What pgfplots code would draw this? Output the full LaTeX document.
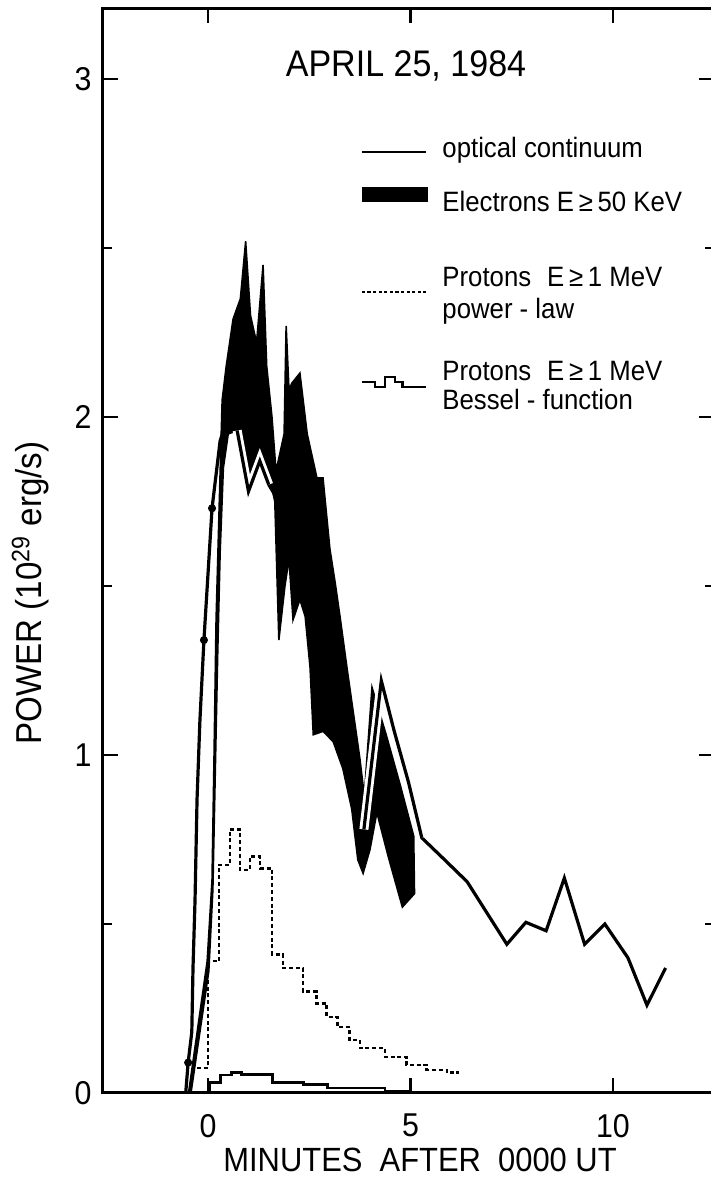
\documentclass[border=0pt]{standalone}
\usepackage{fontspec}
\setmainfont{Liberation Sans}[FakeStretch=0.92]
\usepackage{pgfplots}
\pgfplotsset{compat=1.18}
\usepackage{pgfplotstable}

% optical continuum
\pgfplotstableread{
x y
-0.55 0.0
-0.49 0.09
-0.4 0.18
-0.37 0.37
-0.32 0.57
-0.27 0.87
-0.2 1.1
-0.1 1.34
0.1 1.73
0.3 1.93
0.5 2.0
0.72 1.96
1.0 1.78
1.28 1.87
1.5 1.8
2.0 1.7
2.5 1.5
3.0 1.3
3.5 1.05
3.85 0.78
4.28 1.22
4.6 1.07
4.95 0.92
5.28 0.755
5.8 0.695
6.4 0.625
7.38 0.44
7.85 0.505
8.35 0.48
8.8 0.636
9.3 0.44
9.8 0.50
10.37 0.40
10.84 0.26
11.3 0.37
}\optical

\pgfplotstableread{
x y
-0.49 0.09
-0.1 1.34
0.1 1.73
}\opticaldots

% electrons E>=50 keV: upper edge left to right, then lower edge back
\pgfplotstableread{
x y
-0.48 0.0
-0.02 0.39
0.1 0.63
0.15 1.0
0.2 1.4
0.28 1.75
0.35 2.05
0.45 2.15
0.62 2.29
0.8 2.35
0.93 2.52
1.05 2.3
1.2 2.22
1.36 2.45
1.45 2.15
1.58 2.0
1.68 1.84
1.88 1.95
1.93 2.27
2.0 2.08
2.07 2.1
2.27 2.13
2.45 1.95
2.69 1.82
2.84 1.82
3.01 1.61
3.14 1.51
3.26 1.41
3.43 1.26
3.56 1.15
3.75 0.99
3.86 0.88
4.05 1.2
4.4 1.06
4.75 0.91
5.08 0.76
5.1 0.59
4.8 0.55
4.45 0.70
4.17 0.83
4.0 0.72
3.83 0.65
3.7 0.69
3.55 0.84
3.33 0.96
3.09 1.04
2.84 1.07
2.6 1.06
2.52 1.26
2.4 1.41
2.27 1.46
2.1 1.40
2.0 1.58
1.9 1.50
1.75 1.34
1.65 1.75
1.45 1.86
1.28 1.87
1.04 1.78
0.72 1.96
0.5 1.95
0.38 1.85
0.3 1.6
0.24 1.3
0.18 0.95
0.12 0.6
0.02 0.36
-0.42 0.0
-0.48 0.0
}\electrons

% protons, power-law (steps)
\pgfplotstableread{
x y
-0.27 0.074
0.0 0.39
0.27 0.675
0.54 0.78
0.79 0.66
1.04 0.70
1.28 0.665
1.58 0.41
1.85 0.37
2.35 0.30
2.68 0.265
2.93 0.225
3.2 0.195
3.5 0.157
3.75 0.133
4.37 0.107
4.9 0.083
5.4 0.068
5.9 0.06
6.2 0.06
}\powerlaw

% protons, Bessel function (steps)
\pgfplotstableread{
x y
0.05 0.0
0.05 0.03
0.3 0.053
0.58 0.06
0.83 0.055
1.6 0.03
2.35 0.024
2.95 0.015
4.37 0.004
5.0 0.004
}\bessel

\begin{document}
\begin{tikzpicture}
\begin{axis}[
  x=20.25pt, y=169pt,
  xmin=-2.6, xmax=12.5, ymin=0, ymax=3.21,
  axis line style={line width=1.5pt},
  every tick/.style={black, line width=1.4pt},
  major tick length=7.5pt, minor tick length=4.5pt,
  tick align=inside,
  xtick={0,5,10}, ytick={0,1,2,3}, minor ytick={0.5,1.5,2.5},
  /pgf/number format/assume math mode=true,
  tick label style={font=\fontsize{16.5}{16.5}\selectfont},
  xticklabel style={yshift=-7pt},
  yticklabel style={xshift=-2pt},
  title={APRIL 25, 1984},
  title style={at={(rel axis cs:0.496,0.9263)}, anchor=base, yshift=0pt,
    font=\fontsize{18.5}{18.5}\selectfont},
  xlabel={MINUTES\ \ AFTER\ \ 0000 UT},
  xlabel style={at={(rel axis cs:0.519,-0.0728)}, anchor=base,
    font=\fontsize{16.8}{16.8}\selectfont},
  ylabel={POWER (10\textsuperscript{29} erg/s)},
  ylabel style={at={(rel axis cs:-0.0993,0.4608)}, anchor=base,
    font=\fontsize{18}{18}\selectfont},
]
\addplot[black, line width=1.6pt] table {\optical};
\addplot[black, fill=black, line width=0.8pt] table {\electrons};
\addplot[black, line width=1.6pt, restrict x to domain=0.6:1.5,
  preaction={draw=white, line width=4.5pt}] table {\optical};
\addplot[black, line width=1.6pt, restrict x to domain=3.85:5.4,
  preaction={draw=white, line width=4.5pt}] table {\optical};
\addplot[only marks, mark=*, mark size=1.8pt, black] table {\opticaldots};
\addplot[black, line width=1.3pt, dash pattern=on 2pt off 1.4pt, const plot] table {\powerlaw};
\addplot[black, line width=1.4pt, const plot] table {\bessel};

% legend
\draw[line width=1.4pt] (axis cs:3.8,2.784) -- (axis cs:5.38,2.784);
\fill (axis cs:3.8,2.636) rectangle (axis cs:5.43,2.68);
\draw[line width=1.1pt, dash pattern=on 1.6pt off 1.2pt] (axis cs:3.8,2.37) -- (axis cs:5.38,2.37);
\draw[line width=1.3pt] (axis cs:3.8,2.104) -- (axis cs:4.12,2.104) -- (axis cs:4.12,2.089)
  -- (axis cs:4.37,2.089) -- (axis cs:4.37,2.118) -- (axis cs:4.62,2.118)
  -- (axis cs:4.62,2.104) -- (axis cs:4.81,2.104) -- (axis cs:4.81,2.089) -- (axis cs:5.38,2.089);
\begin{scope}[every node/.style={anchor=base west, inner sep=0pt, font=\fontsize{14}{14}\selectfont}]
\node at (axis cs:5.78,2.769) {optical continuum};
\node at (axis cs:5.78,2.609) {Electrons E\,≥\,50 KeV};
\node at (axis cs:5.78,2.385) {Protons\hspace{8pt}E\,≥\,1 MeV};
\node at (axis cs:5.78,2.293) {power - law};
\node at (axis cs:5.78,2.109) {Protons\hspace{8pt}E\,≥\,1 MeV};
\node at (axis cs:5.78,2.021) {Bessel - function};
\end{scope}

\coordinate (bbsw) at (axis cs:-5.136,-0.29);
\coordinate (bbne) at (axis cs:12.42,3.234);
\end{axis}
\pgfresetboundingbox
\useasboundingbox (bbsw) rectangle (bbne);
\end{tikzpicture}
\end{document}
